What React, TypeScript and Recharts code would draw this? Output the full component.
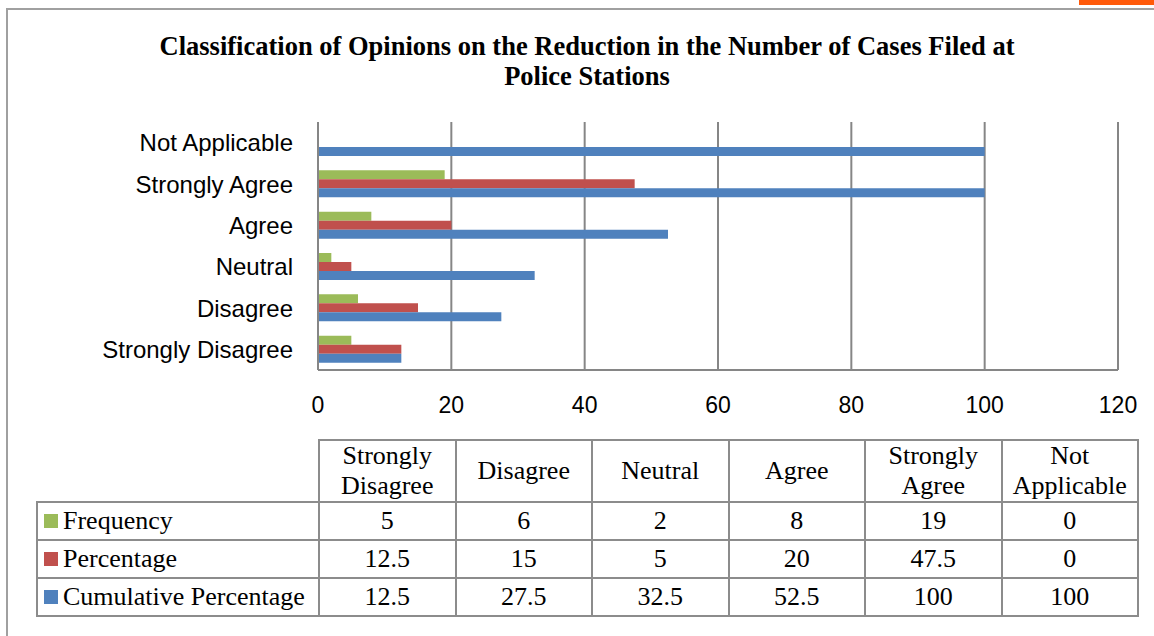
import React from "react";
import { BarChart, Bar, XAxis, YAxis, CartesianGrid } from "recharts";

const categories = ["Strongly Disagree", "Disagree", "Neutral", "Agree", "Strongly Agree", "Not Applicable"];
const headerLines = [["Strongly", "Disagree"], ["Disagree"], ["Neutral"], ["Agree"], ["Strongly", "Agree"], ["Not", "Applicable"]];
const frequency = [5, 6, 2, 8, 19, 0];
const percentage = [12.5, 15, 5, 20, 47.5, 0];
const cumulative = [12.5, 27.5, 32.5, 52.5, 100, 100];
const xTicks = [0, 20, 40, 60, 80, 100, 120];

const series = [
  { key: "frequency", label: "Frequency", color: "#9BBB59", values: frequency },
  { key: "percentage", label: "Percentage", color: "#C0504D", values: percentage },
  { key: "cumulative", label: "Cumulative Percentage", color: "#4F81BD", values: cumulative },
];

const data = categories.map((name, i) => ({
  name,
  frequency: frequency[i],
  percentage: percentage[i],
  cumulative: cumulative[i],
}));

const gridColor = "#868686";
const tableBorder = "2px solid #8c8c8c";
const sans = "'Liberation Sans', Arial, sans-serif";
const serif = "'Liberation Serif', 'Times New Roman', serif";

const cell: React.CSSProperties = {
  border: tableBorder,
  textAlign: "center",
  padding: 0,
  fontSize: 26,
  lineHeight: "30px",
};

const App = () => {
  return (
    <div style={{ position: "fixed", left: 0, top: 0, width: 1154, height: 636, background: "#fff", overflow: "hidden" }}>
      {/* page frame */}
      <div style={{ position: "absolute", left: 1079, top: 0, width: 75, height: 5, background: "#FF5A0A" }} />
      <div style={{ position: "absolute", left: 6, top: 8, width: 1148, height: 2, background: "#a0a0a0" }} />
      <div style={{ position: "absolute", left: 6, top: 8, width: 2, height: 628, background: "#a0a0a0" }} />

      <div
        style={{
          position: "absolute",
          left: 60,
          top: 31,
          width: 1054,
          textAlign: "center",
          fontFamily: serif,
          fontWeight: "bold",
          fontSize: 26.5,
          lineHeight: "30px",
          color: "#000",
        }}
      >
        Classification of Opinions on the Reduction in the Number of Cases Filed at
        <br />
        Police Stations
      </div>

      <div style={{ position: "absolute", left: 0, top: 0 }}>
        <BarChart
          width={1154}
          height={430}
          data={data}
          layout="vertical"
          margin={{ top: 122, right: 36, bottom: 0, left: 0 }}
          barSize={9}
          barGap={0}
        >
          <CartesianGrid horizontal={false} stroke={gridColor} strokeWidth={2} />
          <XAxis
            type="number"
            domain={[0, 120]}
            ticks={xTicks}
            height={60}
            tickLine={false}
            tickSize={0}
            tickMargin={27}
            axisLine={{ stroke: gridColor, strokeWidth: 2 }}
            tick={{ fill: "#000", fontSize: 23, fontFamily: sans }}
            interval={0}
          />
          <YAxis
            type="category"
            dataKey="name"
            reversed
            width={318}
            tickLine={false}
            tickSize={0}
            tickMargin={25}
            axisLine={{ stroke: gridColor, strokeWidth: 2 }}
            tick={{ fill: "#000", fontSize: 24, fontFamily: sans }}
            interval={0}
          />
          {series.map((s) => (
            <Bar key={s.key} dataKey={s.key} fill={s.color} isAnimationActive={false} />
          ))}
        </BarChart>
      </div>

      <table
        style={{
          position: "absolute",
          left: 36,
          top: 439,
          width: 1101,
          borderCollapse: "collapse",
          tableLayout: "fixed",
          fontFamily: serif,
          color: "#000",
        }}
      >
        <colgroup>
          <col style={{ width: 282 }} />
          {categories.map((c) => (
            <col key={c} style={{ width: 136.5 }} />
          ))}
        </colgroup>
        <tbody>
          <tr style={{ height: 62 }}>
            <td style={{ ...cell, borderTop: "none", borderLeft: "none" }} />
            {headerLines.map((lines, i) => (
              <td key={i} style={cell}>
                {lines.map((l, j) => (
                  <div key={j}>{l}</div>
                ))}
              </td>
            ))}
          </tr>
          {series.map((s) => (
            <tr key={s.key} style={{ height: 38 }}>
              <td style={{ ...cell, textAlign: "left", paddingLeft: 6, whiteSpace: "nowrap" }}>
                <span
                  style={{
                    display: "inline-block",
                    width: 14,
                    height: 14,
                    background: s.color,
                    marginRight: 5,
                    verticalAlign: "1px",
                  }}
                />
                {s.label}
              </td>
              {s.values.map((v, i) => (
                <td key={i} style={cell}>
                  {v}
                </td>
              ))}
            </tr>
          ))}
        </tbody>
      </table>
    </div>
  );
};

export default App;
